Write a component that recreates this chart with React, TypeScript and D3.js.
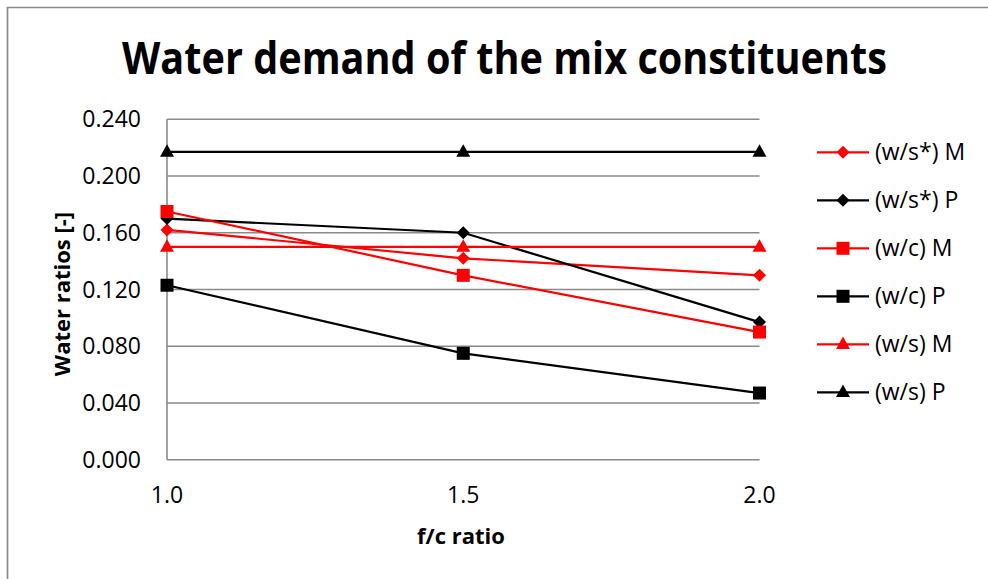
import React from "react";
import * as d3 from "d3";

const categories = ["1.0", "1.5", "2.0"];
const yTicks = [0, 0.04, 0.08, 0.12, 0.16, 0.2, 0.24];

const seriesNames = ["(w/s*) M", "(w/s*) P", "(w/c) M", "(w/c) P", "(w/s) M", "(w/s) P"];
const seriesColors = ["#ff0000", "#000000", "#ff0000", "#000000", "#ff0000", "#000000"];
const seriesMarkers = ["diamond", "diamond", "square", "square", "triangle", "triangle"];

const wsStarM = [0.162, 0.142, 0.13];
const wsStarP = [0.17, 0.16, 0.097];
const wcM = [0.175, 0.13, 0.09];
const wcP = [0.123, 0.075, 0.047];
const wsM = [0.15, 0.15, 0.15];
const wsP = [0.217, 0.217, 0.217];

const seriesValues = [wsStarM, wsStarP, wcM, wcP, wsM, wsP];

const W = 988;
const H = 579;
const FONT = "'Open Sans', 'Liberation Sans', sans-serif";

function Marker({ type, x, y, color }: { type: string; x: number; y: number; color: string }) {
  if (type === "diamond") {
    const r = 6.5;
    return <path d={`M${x},${y - r}L${x + r},${y}L${x},${y + r}L${x - r},${y}Z`} fill={color} />;
  }
  if (type === "square") {
    const r = 6.5;
    return <rect x={x - r} y={y - r} width={2 * r} height={2 * r} fill={color} />;
  }
  const h = 12.5;
  const w = 14;
  return <path d={`M${x},${y - h * 0.62}L${x + w / 2},${y + h * 0.38}L${x - w / 2},${y + h * 0.38}Z`} fill={color} />;
}

export default function App() {
  const x = d3.scalePoint<string>().domain(categories).range([167, 759.5]);
  const y = d3.scaleLinear().domain([0, 0.24]).range([459.7, 119.3]);
  const line = d3
    .line<number>()
    .x((_, i) => x(categories[i]) as number)
    .y((d) => y(d));

  const legendY0 = 152.3;
  const legendStep = 48;

  return (
    <svg
      width={W}
      height={H}
      style={{ position: "absolute", left: 0, top: 0, background: "#fff" }}
      fontFamily={FONT}
    >
      <rect x={0} y={0} width={W} height={H} fill="#fff" />
      <path d={`M7.5,${H + 5}V7.5H${W + 5}`} fill="none" stroke="#8a8a8a" strokeWidth={1.7} />

      <text
        x={504.5}
        y={74}
        textAnchor="middle"
        fontSize={44}
        fontWeight="bold"
        textLength={765}
        lengthAdjust="spacingAndGlyphs"
        fill="#000"
      >
        Water demand of the mix constituents
      </text>

      {/* gridlines */}
      {yTicks.map((t) => (
        <line
          key={t}
          x1={167}
          x2={759.5}
          y1={y(t)}
          y2={y(t)}
          stroke="#8a8a8a"
          strokeWidth={1.6}
        />
      ))}
      <line x1={167} x2={167} y1={y(0.24)} y2={y(0)} stroke="#8a8a8a" strokeWidth={1.6} />

      {/* y tick labels */}
      {yTicks.map((t) => (
        <text key={t} x={141} y={y(t) + 8} textAnchor="end" fontSize={23} fill="#000">
          {d3.format(".3f")(t)}
        </text>
      ))}

      {/* x tick labels */}
      {categories.map((c) => (
        <text key={c} x={x(c) as number} y={503} textAnchor="middle" fontSize={23} fill="#000">
          {c}
        </text>
      ))}

      {/* axis titles */}
      <text
        transform={`translate(70,294) rotate(-90)`}
        textAnchor="middle"
        fontSize={22}
        fontWeight="bold"
        fill="#000"
      >
        Water ratios [-]
      </text>
      <text x={461} y={544} textAnchor="middle" fontSize={22} fontWeight="bold" fill="#000">
        f/c ratio
      </text>

      {/* series */}
      {seriesValues.map((vals, si) => (
        <g key={si}>
          <path d={line(vals) || ""} fill="none" stroke={seriesColors[si]} strokeWidth={2.2} />
          {vals.map((v, i) => (
            <Marker
              key={i}
              type={seriesMarkers[si]}
              x={x(categories[i]) as number}
              y={y(v)}
              color={seriesColors[si]}
            />
          ))}
        </g>
      ))}

      {/* legend */}
      {seriesNames.map((name, si) => {
        const ly = legendY0 + si * legendStep;
        return (
          <g key={name}>
            <line x1={817} x2={869} y1={ly} y2={ly} stroke={seriesColors[si]} strokeWidth={2.2} />
            <Marker type={seriesMarkers[si]} x={843} y={ly} color={seriesColors[si]} />
            <text x={875} y={ly + 8} fontSize={23} fill="#000">
              {name}
            </text>
          </g>
        );
      })}
    </svg>
  );
}
